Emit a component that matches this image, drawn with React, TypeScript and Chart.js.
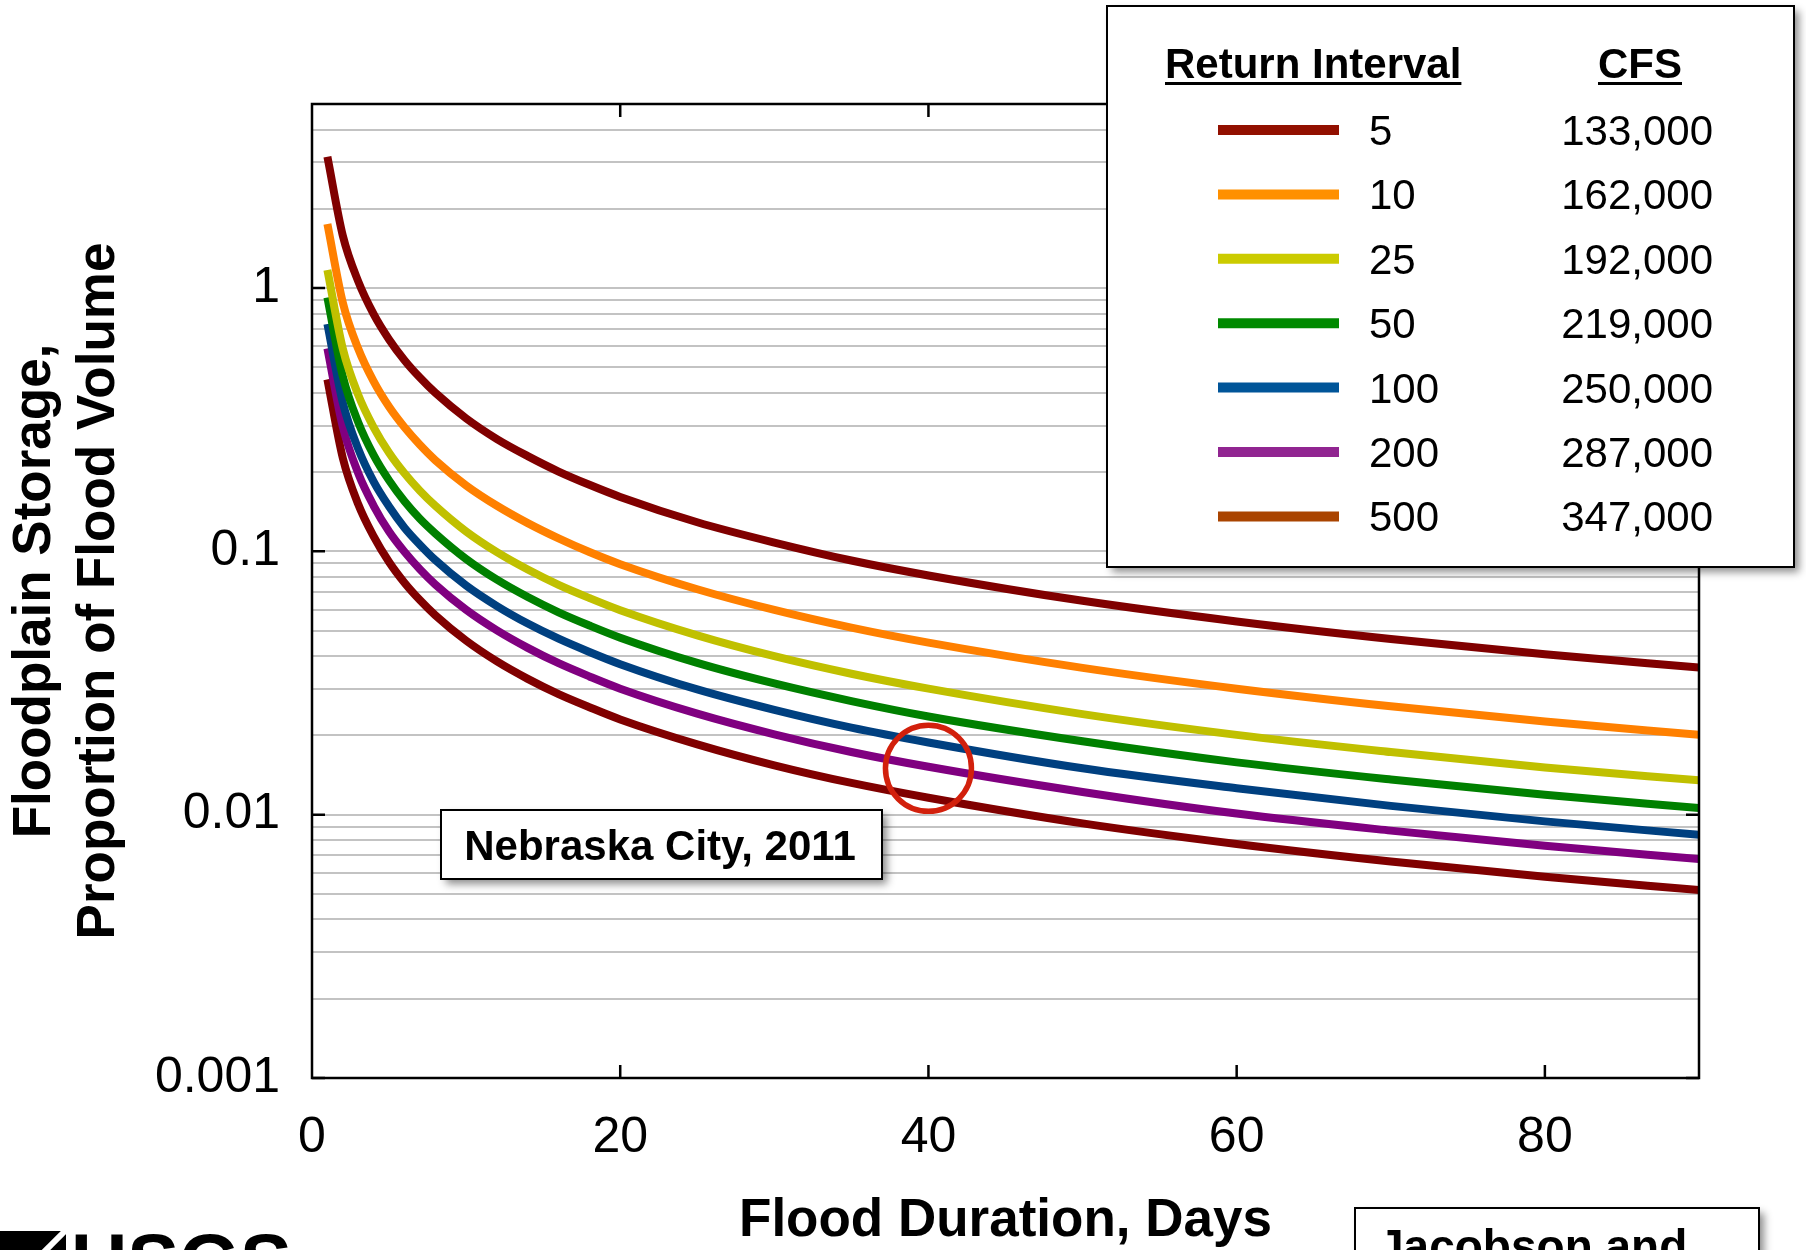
import React, { useEffect, useRef } from 'react';
import { Chart, registerables } from 'chart.js';

Chart.register(...registerables);

const FONT = "'Liberation Sans', Arial, Helvetica, sans-serif";

// ---- data ----
const durationDays = [1, 2, 3, 4, 5, 6, 7, 8, 10, 12, 14, 16, 18, 20, 25, 30, 35, 40, 50, 60, 70, 80, 90];

const storage5 = [3.15, 1.58, 1.06, 0.796, 0.638, 0.532, 0.457, 0.4, 0.32, 0.267, 0.23, 0.201, 0.179, 0.161, 0.129, 0.108, 0.0923, 0.081, 0.0649, 0.0542, 0.0465, 0.0407, 0.0362];
const storage10 = [1.75, 0.88, 0.588, 0.442, 0.354, 0.296, 0.254, 0.222, 0.178, 0.149, 0.128, 0.112, 0.0994, 0.0894, 0.0718, 0.0599, 0.0513, 0.045, 0.0361, 0.0301, 0.0258, 0.0226, 0.0201];
const storage25 = [1.17, 0.588, 0.393, 0.296, 0.237, 0.198, 0.17, 0.149, 0.119, 0.0993, 0.0853, 0.0746, 0.0665, 0.0598, 0.048, 0.04, 0.0343, 0.0301, 0.0241, 0.0201, 0.0173, 0.0151, 0.0135];
const storage50 = [0.92, 0.462, 0.309, 0.232, 0.186, 0.155, 0.133, 0.117, 0.0936, 0.0781, 0.0671, 0.0587, 0.0523, 0.047, 0.0377, 0.0315, 0.027, 0.0236, 0.019, 0.0158, 0.0136, 0.0119, 0.0106];
const storage100 = [0.73, 0.367, 0.245, 0.184, 0.148, 0.123, 0.106, 0.0927, 0.0742, 0.062, 0.0532, 0.0466, 0.0415, 0.0373, 0.0299, 0.025, 0.0214, 0.0188, 0.015, 0.0126, 0.0108, 0.00943, 0.00839];
const storage200 = [0.59, 0.297, 0.198, 0.149, 0.119, 0.0997, 0.0856, 0.0749, 0.06, 0.0501, 0.043, 0.0376, 0.0335, 0.0301, 0.0242, 0.0202, 0.0173, 0.0152, 0.0122, 0.0101, 0.0087, 0.00762, 0.00678];
const storage500 = [0.45, 0.226, 0.151, 0.114, 0.0911, 0.076, 0.0653, 0.0572, 0.0458, 0.0382, 0.0328, 0.0287, 0.0256, 0.023, 0.0185, 0.0154, 0.0132, 0.0116, 0.00927, 0.00774, 0.00664, 0.00581, 0.00517];

const returnIntervals = ['5', '10', '25', '50', '100', '200', '500'];
const cfsLabels = ['133,000', '162,000', '192,000', '219,000', '250,000', '287,000', '347,000'];
const lineColors = ['#800000', '#ff8000', '#c0c000', '#008000', '#004080', '#800080', '#800000'];
const legendColors = ['#921000', '#ff9000', '#cbcb00', '#008a00', '#005599', '#912591', '#aa4400'];

const xTickValues = [0, 20, 40, 60, 80];
const yDecades = [0.001, 0.01, 0.1, 1];
const yDecadeLabels = ['0.001', '0.01', '0.1', '1'];
const yGridValues = [
  0.001, 0.002, 0.003, 0.004, 0.005, 0.006, 0.007, 0.008, 0.009,
  0.01, 0.02, 0.03, 0.04, 0.05, 0.06, 0.07, 0.08, 0.09,
  0.1, 0.2, 0.3, 0.4, 0.5, 0.6, 0.7, 0.8, 0.9,
  1, 2, 3, 4, 5,
];

const highlightDay = [40];
const highlightStorage = [0.015];

const yTitleLines = ['Floodplain Storage,', 'Proportion of Flood Volume'];
const xTitle = 'Flood Duration, Days';
const siteLabel = 'Nebraska City, 2011';

function shadowBox(ctx: CanvasRenderingContext2D, x: number, y: number, w: number, h: number) {
  ctx.save();
  ctx.shadowColor = 'rgba(0,0,0,0.45)';
  ctx.shadowBlur = 8;
  ctx.shadowOffsetX = 5;
  ctx.shadowOffsetY = 5;
  ctx.fillStyle = '#ffffff';
  ctx.fillRect(x, y, w, h);
  ctx.restore();
  ctx.save();
  ctx.strokeStyle = '#000000';
  ctx.lineWidth = 2;
  ctx.strokeRect(x, y, w, h);
  ctx.restore();
}

const overlayPlugin = {
  id: 'overlay',
  afterDraw(chart: any) {
    const { ctx, chartArea: ca, scales } = chart;
    const xs = scales.x;
    const ys = scales.y;
    ctx.save();

    // frame
    ctx.strokeStyle = '#000';
    ctx.lineWidth = 2.5;
    ctx.strokeRect(ca.left, ca.top, ca.right - ca.left, ca.bottom - ca.top);

    // inward tick marks
    const tl = 13;
    ctx.beginPath();
    yDecades.forEach((v) => {
      const py = ys.getPixelForValue(v);
      ctx.moveTo(ca.left, py);
      ctx.lineTo(ca.left + tl, py);
      ctx.moveTo(ca.right, py);
      ctx.lineTo(ca.right - tl, py);
    });
    xTickValues.forEach((v) => {
      if (v === 0) return;
      const px = xs.getPixelForValue(v);
      ctx.moveTo(px, ca.bottom);
      ctx.lineTo(px, ca.bottom - tl);
      ctx.moveTo(px, ca.top);
      ctx.lineTo(px, ca.top + tl);
    });
    ctx.stroke();

    // site label box
    shadowBox(ctx, 441, 810, 441, 69);
    ctx.fillStyle = '#000';
    ctx.font = `bold 42px ${FONT}`;
    ctx.textAlign = 'center';
    ctx.textBaseline = 'alphabetic';
    ctx.fillText(siteLabel, 660, 860);

    // legend box
    shadowBox(ctx, 1107, 6, 687, 561);
    ctx.fillStyle = '#000';
    ctx.font = `bold 42px ${FONT}`;
    ctx.textAlign = 'left';
    ctx.fillText('Return Interval', 1165, 78);
    const w1 = ctx.measureText('Return Interval').width;
    ctx.fillRect(1165, 82, w1, 3);
    ctx.textAlign = 'center';
    ctx.fillText('CFS', 1640, 78);
    const w2 = ctx.measureText('CFS').width;
    ctx.fillRect(1640 - w2 / 2, 82, w2, 3);

    ctx.font = `42px ${FONT}`;
    returnIntervals.forEach((ri, i) => {
      const cy = 130 + i * 64.4;
      ctx.strokeStyle = legendColors[i];
      ctx.lineWidth = 10;
      ctx.lineCap = 'butt';
      ctx.beginPath();
      ctx.moveTo(1218, cy);
      ctx.lineTo(1339, cy);
      ctx.stroke();
      ctx.fillStyle = '#000';
      ctx.textAlign = 'left';
      ctx.fillText(ri, 1369, cy + 15);
      ctx.textAlign = 'right';
      ctx.fillText(cfsLabels[i], 1713, cy + 15);
    });

    // cut-off decorations at the bottom of the slide
    ctx.fillStyle = '#000';
    ctx.fillRect(0, 1231, 66, 19);
    ctx.strokeStyle = '#fff';
    ctx.lineWidth = 6;
    ctx.beginPath();
    ctx.moveTo(42, 1254);
    ctx.lineTo(68, 1228);
    ctx.stroke();
    ctx.fillStyle = '#000';
    ctx.font = `bold 78px ${FONT}`;
    ctx.textAlign = 'left';
    ctx.fillText('USGS', 71, 1288);

    shadowBox(ctx, 1355, 1208, 404, 80);
    ctx.fillStyle = '#000';
    ctx.font = `bold 46px ${FONT}`;
    ctx.textAlign = 'left';
    ctx.fillText('Jacobson and', 1378, 1262);

    ctx.restore();
  },
};

export default function App() {
  const ref = useRef<HTMLCanvasElement | null>(null);

  useEffect(() => {
    if (!ref.current) return;
    const series = [storage5, storage10, storage25, storage50, storage100, storage200, storage500];
    const datasets: any[] = series.map((vals, i) => ({
      label: returnIntervals[i],
      data: durationDays.map((d, j) => ({ x: d, y: vals[j] })),
      borderColor: lineColors[i],
      backgroundColor: lineColors[i],
      borderWidth: 8,
      pointRadius: 0,
      fill: false,
      cubicInterpolationMode: 'monotone',
      borderJoinStyle: 'round',
      borderCapStyle: 'butt',
      order: i + 1,
    }));
    datasets.push({
      label: 'highlight',
      data: highlightDay.map((d, j) => ({ x: d, y: highlightStorage[j] })),
      showLine: false,
      pointRadius: 43,
      pointBorderWidth: 5.5,
      pointBorderColor: '#d2200c',
      pointBackgroundColor: 'rgba(0,0,0,0)',
      borderColor: '#d2200c',
      backgroundColor: 'rgba(0,0,0,0)',
      order: 0,
    });

    const chart = new Chart(ref.current, {
      type: 'line',
      data: { datasets },
      options: {
        responsive: false,
        animation: false,
        devicePixelRatio: 1,
        events: [],
        layout: { padding: { top: 104, right: 107, left: 0, bottom: 0 } },
        plugins: { legend: { display: false }, tooltip: { enabled: false } },
        scales: {
          x: {
            type: 'linear',
            min: 0,
            max: 90,
            afterBuildTicks: (s: any) => {
              s.ticks = xTickValues.map((v) => ({ value: v }));
            },
            afterFit: (s: any) => {
              s.height = 172;
            },
            grid: { display: false, drawTicks: false },
            border: { display: false },
            ticks: {
              autoSkip: false,
              maxRotation: 0,
              padding: 30,
              color: '#000',
              font: { size: 50, family: FONT },
            },
            title: {
              display: true,
              text: xTitle,
              color: '#000',
              font: { size: 53, weight: 'bold', family: FONT },
              padding: { top: 0, bottom: -3 },
            },
          },
          y: {
            type: 'logarithmic',
            min: 0.001,
            max: 5,
            afterBuildTicks: (s: any) => {
              s.ticks = yGridValues.map((v) => ({ value: v }));
            },
            afterFit: (s: any) => {
              s.width = 312;
            },
            grid: { color: '#c3c3c3', lineWidth: 2, drawTicks: false },
            border: { display: false },
            ticks: {
              autoSkip: false,
              padding: 32,
              color: '#000',
              font: { size: 50, family: FONT },
              callback: (v: any) => {
                const idx = yDecades.indexOf(Number(v));
                return idx >= 0 ? yDecadeLabels[idx] : '';
              },
            },
            title: {
              display: true,
              text: yTitleLines,
              color: '#000',
              font: { size: 53, weight: 'bold', family: FONT, lineHeight: 1.2 },
              padding: { top: 4, bottom: 0 },
            },
          },
        },
      } as any,
      plugins: [overlayPlugin],
    });
    return () => chart.destroy();
  }, []);

  return (
    <div style={{ position: 'absolute', left: 0, top: 0, width: 1806, height: 1250, background: '#fff', overflow: 'hidden' }}>
      <canvas ref={ref} width={1806} height={1250} style={{ display: 'block', width: 1806, height: 1250 }} />
    </div>
  );
}
